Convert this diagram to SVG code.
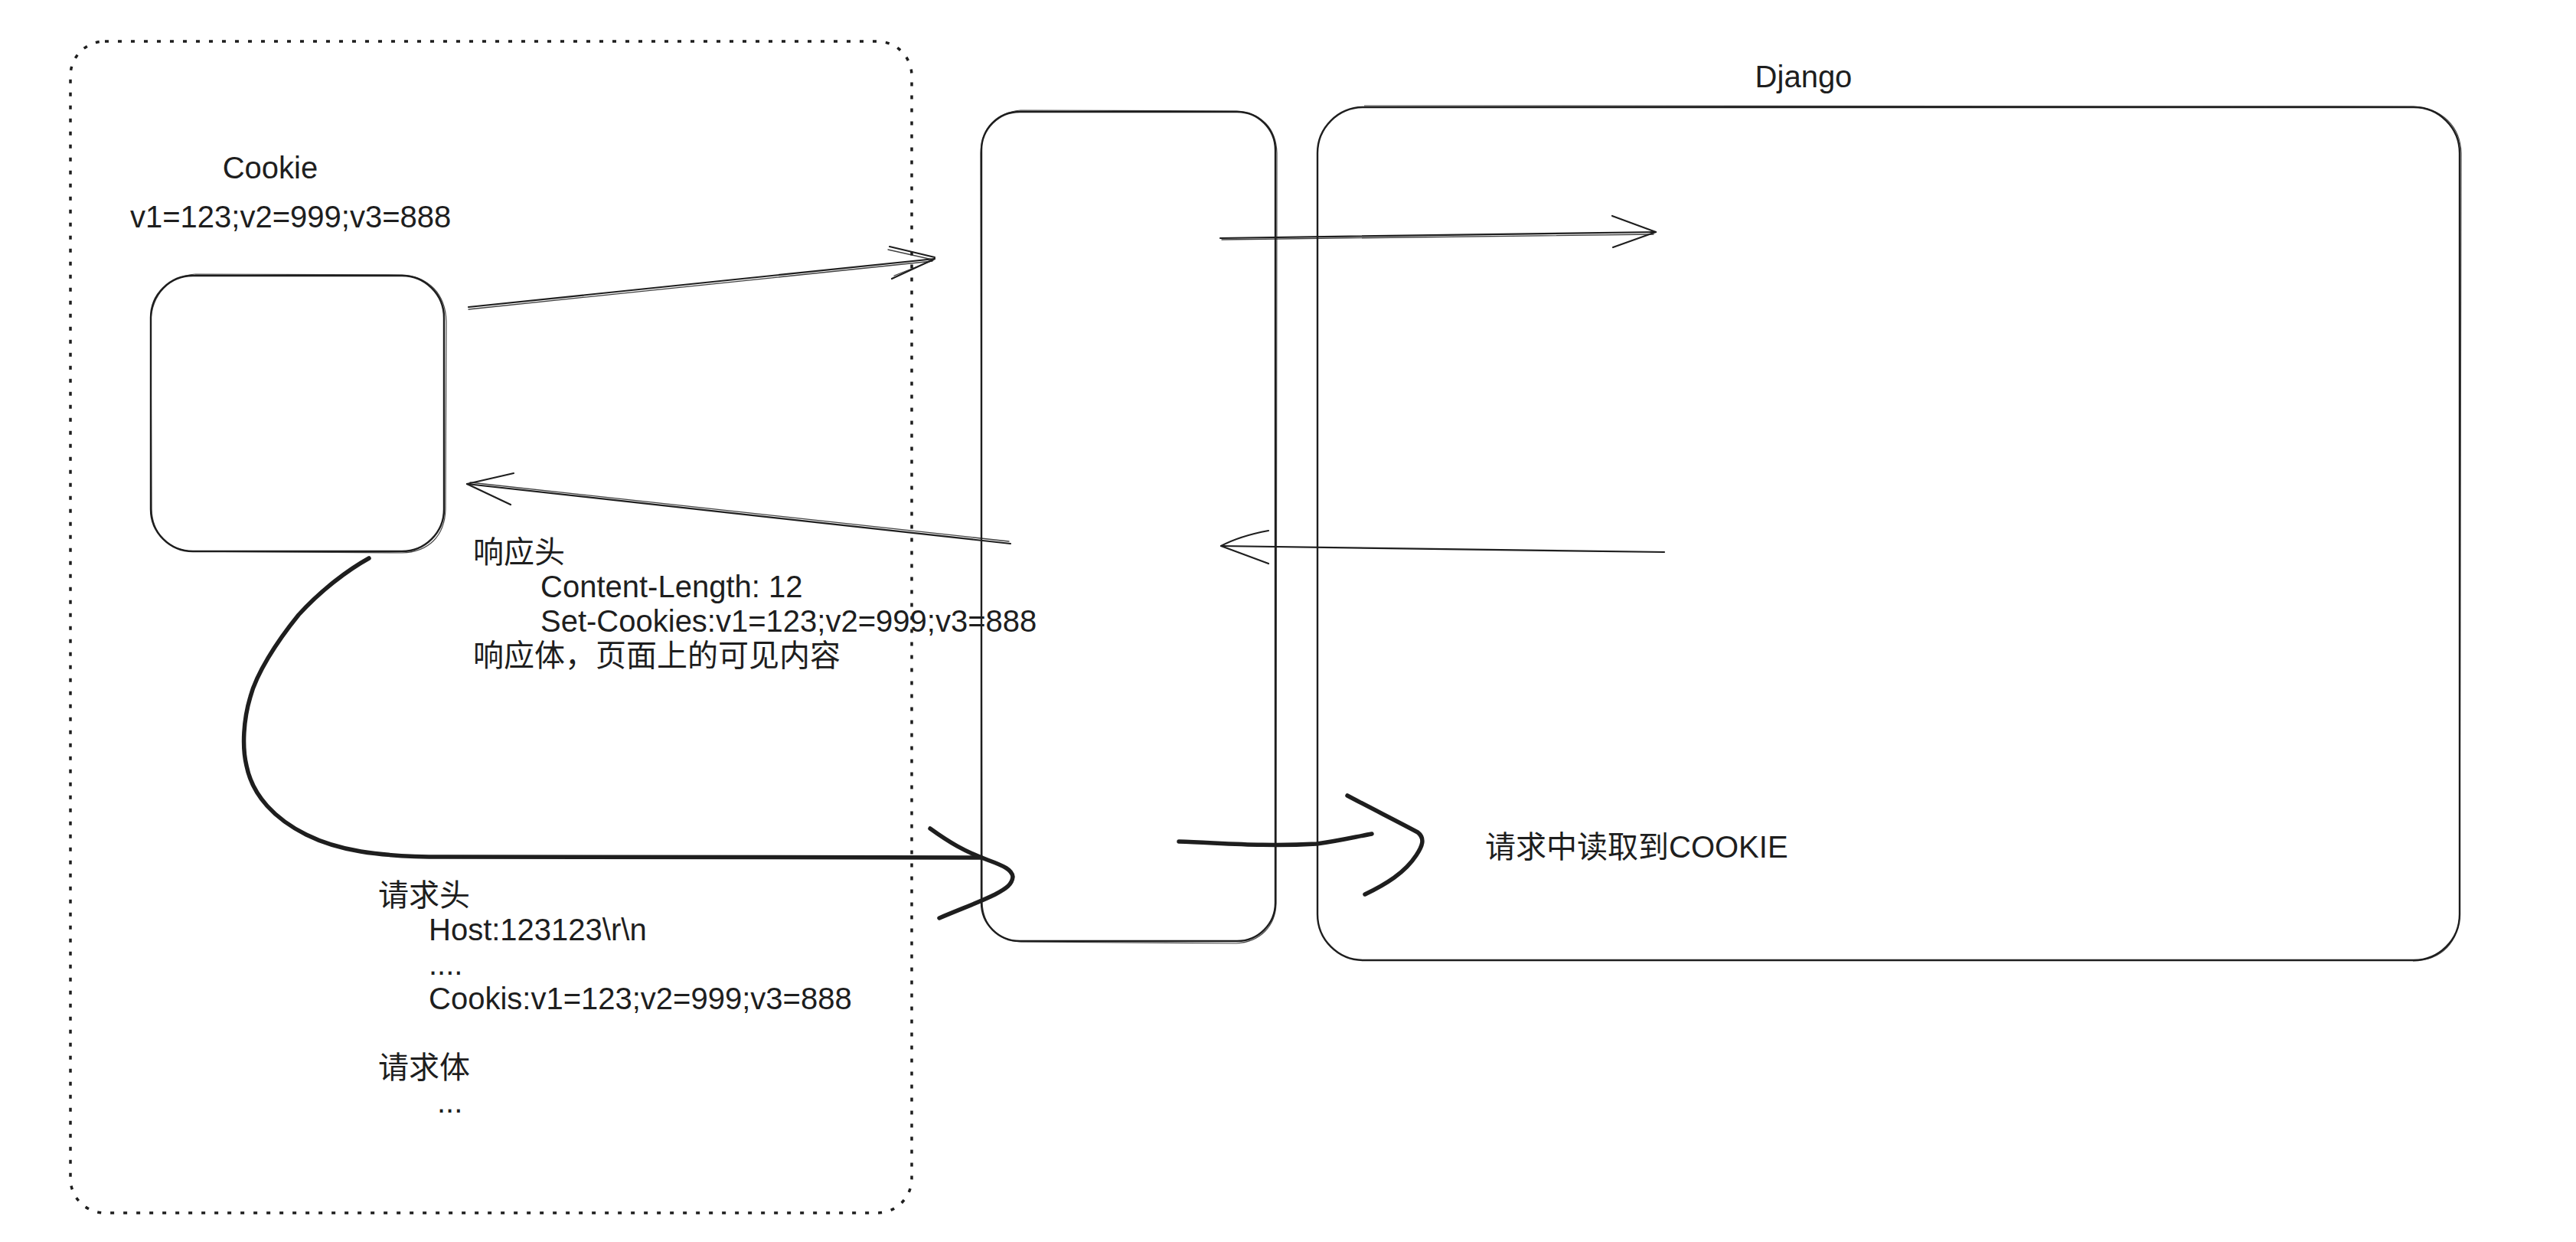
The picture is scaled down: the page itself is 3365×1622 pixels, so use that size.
<svg xmlns="http://www.w3.org/2000/svg" width="3365" height="1622" viewBox="0 0 3365 1622">
<style>
  .bg{fill:#ffffff}
  .box{fill:none;stroke:#1e1e1e;stroke-width:2.4;stroke-linejoin:round}
  .box2{fill:none;stroke:#1e1e1e;stroke-width:1.2;stroke-opacity:0.8}
  .dash{fill:none;stroke:#1e1e1e;stroke-width:3.5;stroke-dasharray:5 12;stroke-linecap:butt}
  .thin{fill:none;stroke:#1e1e1e;stroke-width:2.2;stroke-linecap:round;stroke-linejoin:round}
  .thin2{fill:none;stroke:#1e1e1e;stroke-width:1.3;stroke-linecap:round;stroke-opacity:0.85}
  .thick{fill:none;stroke:#1e1e1e;stroke-width:5.5;stroke-linecap:round;stroke-linejoin:round}
  .t{font-family:"Liberation Sans","Noto Sans CJK SC",sans-serif;font-size:40px;fill:#1e1e1e}
</style>
<rect class="bg" x="0" y="0" width="3365" height="1622"/>

<g id="node-browser-area">
  <rect class="dash" x="92" y="54" width="1099" height="1530" rx="45" ry="45"/>
</g>

<g id="node-cookie">
  <rect class="box" x="197" y="360" width="383" height="360" rx="55" ry="55"/>
  <path class="box2" d="M255,358 L525,359 C560,361 582,384 583,420 L582,665 C581,700 560,721 525,722 L250,720 C220,718 199,697 198,665 L197,420 C198,385 220,361 255,358"/>
  <text class="t" x="353" y="233" text-anchor="middle">Cookie</text>
  <text class="t" x="170" y="297">v1=123;v2=999;v3=888</text>
</g>

<g id="node-middle">
  <rect class="box" x="1282" y="146" width="384" height="1083" rx="50" ry="50"/>
  <path class="box2" d="M1333,144 L1615,145 C1648,147 1667,168 1668,200 L1667,1180 C1666,1210 1646,1230 1615,1232 L1334,1230 C1302,1228 1284,1208 1283,1178 L1281,200 C1282,168 1300,147 1333,144"/>
</g>

<g id="node-django">
  <rect class="box" x="1721" y="140" width="1492" height="1114" rx="60" ry="60"/>
  <path class="box2" d="M1782,138 L3152,139 C3190,141 3214,165 3215,200 L3213,1193 C3212,1230 3190,1254 3152,1255"/>
  <text class="t" x="2356" y="114" text-anchor="middle">Django</text>
  <text class="t" x="1940" y="1120">请求中读取到COOKIE</text>
</g>

<g id="node-response-text">
  <text class="t" x="618" y="735">响应头</text>
  <text class="t" x="706" y="780">Content-Length: 12</text>
  <text class="t" x="706" y="825">Set-Cookies:v1=123;v2=999;v3=888</text>
  <text class="t" x="618" y="870">响应体，页面上的可见内容</text>
</g>

<g id="node-request-text">
  <text class="t" x="494" y="1183">请求头</text>
  <text class="t" x="560" y="1228">Host:123123\r\n</text>
  <text class="t" x="560" y="1273">....</text>
  <text class="t" x="560" y="1318">Cookis:v1=123;v2=999;v3=888</text>
  <text class="t" x="494" y="1408">请求体</text>
  <text class="t" x="571" y="1453">...</text>
</g>

<g id="connectors">
  <!-- cookie -> middle (request) -->
  <path class="thin" d="M612,401 L1221,338"/>
  <path class="thin2" d="M612,404 L1218,341"/>
  <path class="thin" d="M1162,322 L1221,336 M1165,364 L1221,338"/>
  <path class="thin2" d="M1160,326 L1218,339 M1168,360 L1219,340"/>

  <!-- middle -> django -->
  <path class="thin" d="M1594,311 L2163,303"/>
  <path class="thin2" d="M1596,313 L2160,306"/>
  <path class="thin" d="M2106,282 L2163,303 L2107,323"/>

  <!-- django -> middle -->
  <path class="thin" d="M2174,721 L1595,713"/>
  <path class="thin" d="M1657,693 C1630,698 1610,705 1595,713 L1657,736"/>

  <!-- middle -> cookie (response) -->
  <path class="thin" d="M1320,710 L610,632"/>
  <path class="thin2" d="M1318,707 L614,630"/>
  <path class="thin" d="M671,618 L610,632 L667,659"/>

  <!-- cookie -> middle bottom (second request, freehand) -->
  <path class="thick" d="M482,729 C455,744 420,770 390,803 C360,840 335,880 327,910 C318,940 316,975 322,1000 C330,1040 360,1070 400,1090 C440,1110 490,1119 580,1119 L1282,1120"/>
  <path class="thick" d="M1215,1082 C1240,1100 1260,1112 1290,1123 C1312,1131 1322,1136 1323,1145 C1322,1155 1315,1160 1300,1168 C1280,1178 1255,1187 1227,1199"/>

  <!-- middle -> django bottom (freehand) -->
  <path class="thick" d="M1540,1099 C1600,1101 1650,1106 1720,1102 C1750,1098 1770,1093 1792,1089"/>
  <path class="thick" d="M1760,1039 C1790,1055 1830,1075 1852,1087 C1862,1095 1858,1105 1850,1117 C1835,1140 1810,1155 1783,1168"/>
</g>
</svg>
